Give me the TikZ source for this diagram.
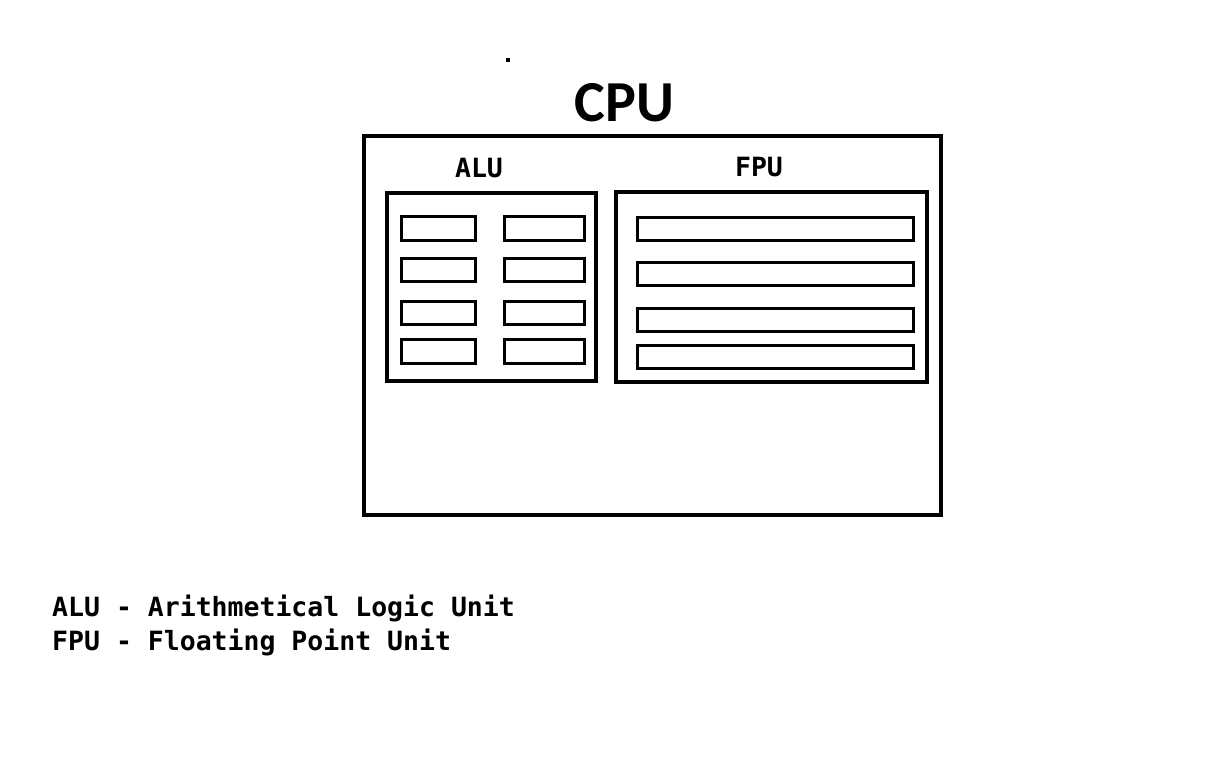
\documentclass[tikz,border=0pt]{standalone}
\usepackage{fontspec}
\setmonofont{DejaVu Sans Mono}
\newfontfamily\titlefont{Carlito}
\usetikzlibrary{positioning}

\begin{document}
\begin{tikzpicture}[
    x=1pt, y=-1pt,
    unit_box/.style={draw, line width=4pt, inner sep=0pt},
    cell_box/.style={draw, line width=3pt, inner sep=0pt, minimum height=23.5pt},
    label_text/.style={font=\ttfamily\bfseries\fontsize{26.5}{34}\selectfont, inner sep=0pt},
    title_text/.style={font=\titlefont\bfseries\fontsize{58}{60}\selectfont, inner sep=0pt}
]
\useasboundingbox (0,0) rectangle (1212,764);

% Outer CPU box and its two units
\node[unit_box, minimum width=577pt, minimum height=379pt] (cpu) at (652.5,325.5) {};
\node[unit_box, minimum width=209pt, minimum height=188pt] (alu) at (491.5,287) {};
\node[unit_box, minimum width=311pt, minimum height=190pt] (fpu) at (771.5,287) {};

% Titles
\node[title_text, above=12pt of cpu, xshift=-28pt] (cpu_title) {CPU};
\node[label_text, above=13pt of alu, xshift=-12.5pt] (alu_title) {ALU};
\node[label_text, above=13pt of fpu, xshift=-12.5pt] (fpu_title) {FPU};

% Stray dot above the title
\fill (506,58) rectangle (510,62);

% ALU cells, two columns
\foreach \y [count=\i] in {228.5,270,313,351.5} {
    \node[cell_box, minimum width=74pt] (alu_l\i) at (438,\y) {};
    \node[cell_box, minimum width=80pt] (alu_r\i) at (544,\y) {};
}

% FPU registers
\foreach \y [count=\i] in {229,274,320,357} {
    \node[cell_box, minimum width=276pt] (fpu_reg\i) at (775,\y) {};
}

% Legend
\node[label_text, anchor=base west] (legend_alu) at (52,616) {ALU - Arithmetical Logic Unit};
\node[label_text, anchor=base west] (legend_fpu) at (52,650) {FPU - Floating Point Unit};

\end{tikzpicture}
\end{document}
